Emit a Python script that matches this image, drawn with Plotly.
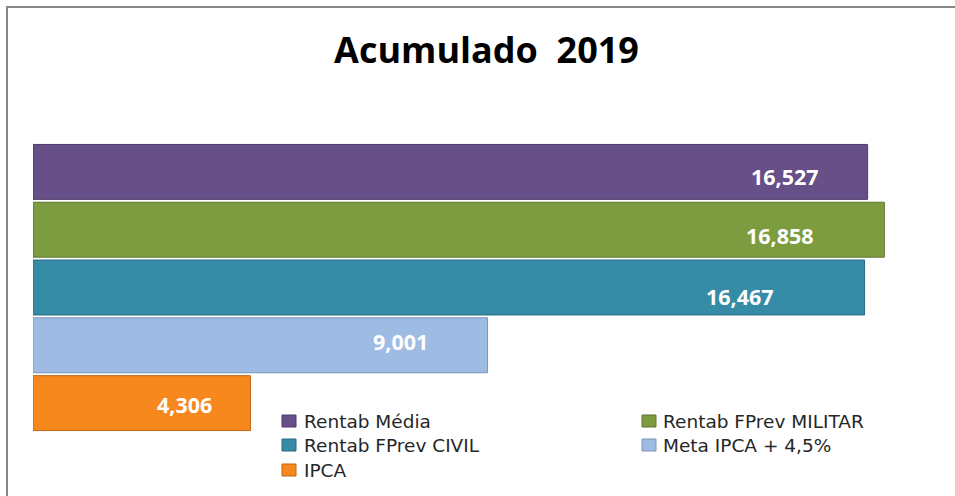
import plotly.graph_objects as go

# ---- data ----
series_names = ["Rentab Média", "Rentab FPrev MILITAR", "Rentab FPrev CIVIL", "Meta IPCA + 4,5%", "IPCA"]
values = [16.527, 16.858, 16.467, 9.001, 4.306]
value_labels = ["16,527", "16,858", "16,467", "9,001", "4,306"]
title_text = "Acumulado\u00a0\u00a02019"

# ---- style ----
colors = ["#674F87", "#7D9B3F", "#368CA7", "#9EBCE3", "#F7881E"]
edge_colors = ["#4E3B68", "#5E7530", "#276A80", "#7A94BA", "#C06716"]
label_xshift = [-47, -68, -89, -58, -36]
label_yshift = [-5, -6, -9, 4, -1]

W, H = 955, 496
L, R, T, B = 33, 32, 143, 64
PW = W - L - R
PH = H - T - B
px_per_unit = 50.5
x_max = PW / px_per_unit

# legend layout (pixels): columns (square left, text left), rows (center y)
leg_cols = [(282, 302), (642, 661)]
leg_rows = [421, 445, 470]
leg_sq = (14, 12)

def px_x(p):
    return (p - L) / PW

def px_y(p):
    return (H - B - p) / PH

fig = go.Figure()
for name, v, c, ec in zip(series_names, values, colors, edge_colors):
    fig.add_trace(go.Bar(
        y=[name], x=[v], orientation="h", name=name,
        marker=dict(color=c, line=dict(color=ec, width=1)),
        width=0.95, hoverinfo="skip", showlegend=False,
    ))

for name, v, lab, xs, ys in zip(series_names, values, value_labels, label_xshift, label_yshift):
    fig.add_annotation(
        x=v, y=name, xref="x", yref="y", text=lab, showarrow=False,
        xanchor="right", yanchor="middle", xshift=xs, yshift=ys,
        font=dict(family="Open Sans", size=21.5, color="white", weight="bold"),
    )

# manual legend
for i, (name, c, ec) in enumerate(zip(series_names, colors, edge_colors)):
    col = leg_cols[i % 2]
    cy = leg_rows[i // 2]
    fig.add_shape(type="rect", xref="paper", yref="paper",
                  x0=px_x(col[0]), x1=px_x(col[0] + leg_sq[0]),
                  y0=px_y(cy + leg_sq[1] / 2), y1=px_y(cy - leg_sq[1] / 2),
                  line=dict(color=ec, width=1), fillcolor=c)
    fig.add_annotation(x=px_x(col[1]), y=px_y(cy), xref="paper", yref="paper",
                       text=name, showarrow=False, xanchor="left", yanchor="middle",
                       font=dict(family="DejaVu Sans", size=18.5, color="#262626"))

fig.add_shape(type="rect", xref="paper", yref="paper",
              x0=px_x(7), x1=px_x(W + 20), y0=px_y(H + 20), y1=px_y(7),
              line=dict(color="#878787", width=2), fillcolor="rgba(0,0,0,0)", layer="below")

fig.update_layout(
    width=W, height=H,
    margin=dict(l=L, r=R, t=T, b=B, autoexpand=False),
    paper_bgcolor="white", plot_bgcolor="white",
    barmode="overlay",
    showlegend=False,
    title=dict(text=title_text, x=486.5 / W, y=1 - 50 / H, xanchor="center", yanchor="middle",
               xref="container", yref="container",
               font=dict(family="Open Sans", size=36, color="black", weight="bold")),
    xaxis=dict(range=[0, x_max], visible=False, fixedrange=True),
    yaxis=dict(categoryorder="array", categoryarray=series_names, range=[4.5, -0.5],
               visible=False, fixedrange=True),
)

fig.write_html("out.html", config={"displayModeBar": False},
               post_script="document.body.style.margin='0';")
